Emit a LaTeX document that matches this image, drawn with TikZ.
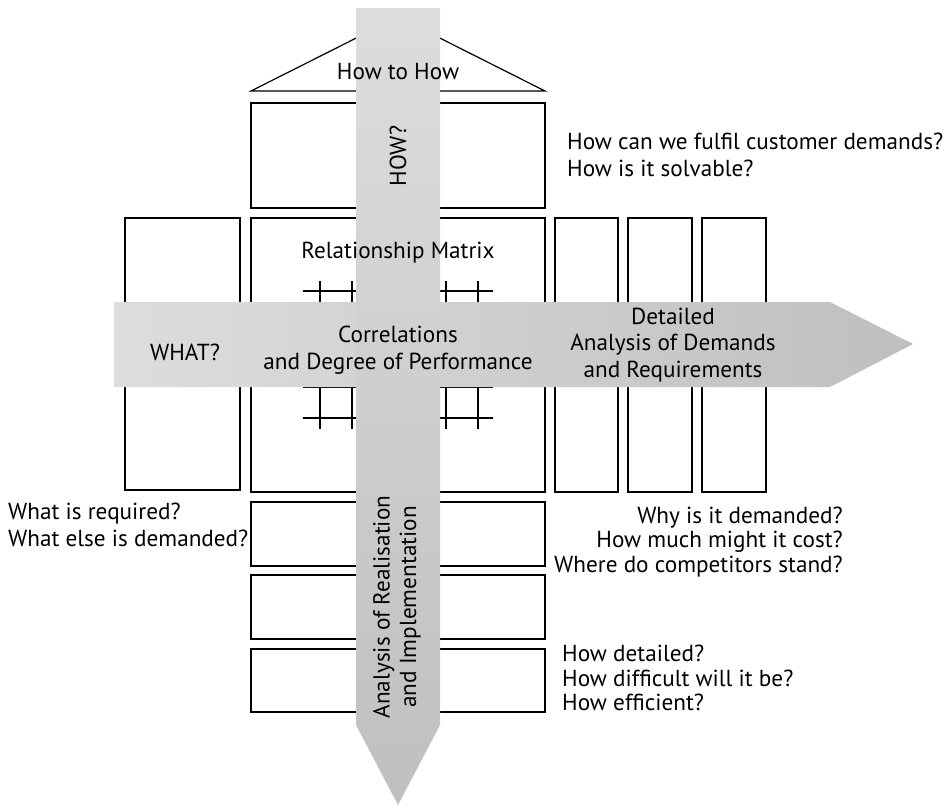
\documentclass[tikz,border=0pt]{standalone}
\usepackage{fontspec}
\setmainfont{PT Sans}
\begin{document}
\begin{tikzpicture}[x=1pt,y=-1pt,
  frame/.style={draw=black,line width=1.2pt},
  gridline/.style={draw=black,line width=1.2pt},
  lbl/.style={inner sep=0pt,font=\fontsize{23.2}{26.5}\selectfont},
  tight/.style={font=\fontsize{23.2}{24.8}\selectfont},
]
\useasboundingbox (0,0) rectangle (951,807);

% roof
\draw[frame,line join=miter] (251,91) -- (398,17) -- (545,91) -- cycle;
% upper box
\draw[frame] (251,103) rectangle (545,208);
% middle row
\draw[frame] (125,218) rectangle (240,490);
\draw[frame] (251,218) rectangle (545,492);
\draw[frame] (555,218) rectangle (618,492);
\draw[frame] (628,218) rectangle (692,492);
\draw[frame] (702,218) rectangle (766,492);
% lower boxes
\draw[frame] (251,502) rectangle (545,566);
\draw[frame] (251,575) rectangle (545,639);
\draw[frame] (251,649) rectangle (545,712);

% relationship grid
\foreach \yy in {291,323,355,387,418}
  \draw[gridline] (303,\yy) -- (493,\yy);
\foreach \xx in {320,352,384,415,446,478}
  \draw[gridline] (\xx,281) -- (\xx,429);

% horizontal arrow
\shade[left color={rgb,255:red,221;green,221;blue,221},right color={rgb,255:red,191;green,191;blue,191}]
  (114,302) -- (830,302) -- (913,344) -- (830,387) -- (114,387) -- cycle;
% vertical arrow
\shade[top color={rgb,255:red,221;green,221;blue,221},bottom color={rgb,255:red,191;green,191;blue,191}]
  (356,8) -- (440,8) -- (440,725) -- (398,805) -- (356,725) -- cycle;

% labels
\node[lbl] (howtohow) at (398,72) {How to How};
\node[lbl,rotate=90] (how) at (398,156) {HOW?};
\node[lbl] (relmat) at (398,253) {Relationship Matrix};
\node[lbl,align=center] (corr) at (398,350) {Correlations\\and Degree of Performance};
\node[lbl] (what) at (185,352) {WHAT?};
\node[lbl,align=center] (detail) at (673,345) {Detailed\\Analysis of Demands\\and Requirements};
\node[lbl,rotate=90,align=center] (real) at (397,607) {Analysis of Realisation\\and Implementation};

\node[lbl,align=left,anchor=west] (fulfil) at (567,155) {How can we fulfil customer demands?\\How is it solvable?};
\node[lbl,align=left,anchor=west] (required) at (8,525) {What is required?\\What else is demanded?};
\node[lbl,tight,align=right,anchor=east] (why) at (843,542) {Why is it demanded?\\How much might it cost?\\Where do competitors stand?};
\node[lbl,tight,align=left,anchor=west] (detailed) at (562,678) {How detailed?\\How difficult will it be?\\How efficient?};
\end{tikzpicture}
\end{document}
